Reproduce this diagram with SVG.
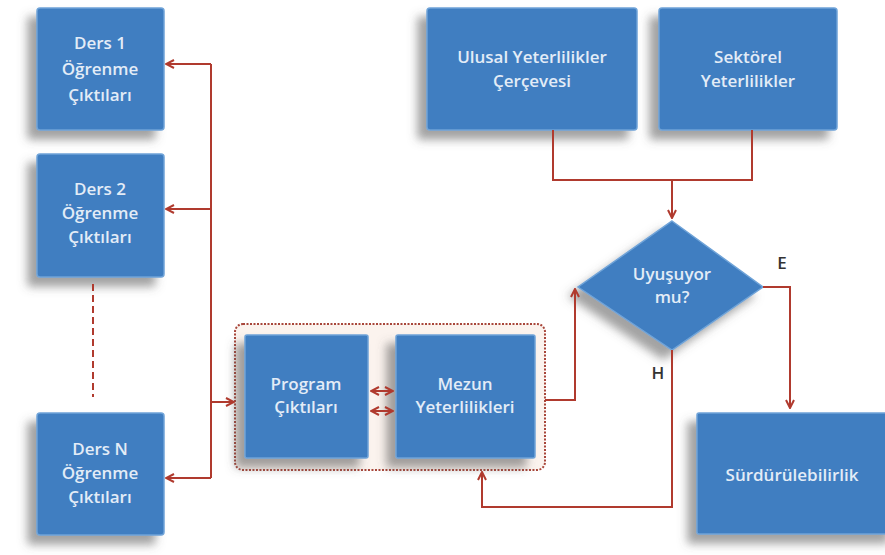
<svg xmlns="http://www.w3.org/2000/svg" width="885" height="555" viewBox="0 0 885 555">
<defs>
<filter id="sh" x="-30%" y="-30%" width="160%" height="170%">
<feDropShadow dx="-9" dy="9" stdDeviation="5" flood-color="#555" flood-opacity="0.55"/>
</filter>
<marker id="ah" viewBox="0 0 10 10" refX="9" refY="5" markerWidth="10" markerHeight="10" markerUnits="userSpaceOnUse" orient="auto-start-reverse">
<path d="M1,1 L9,5 L1,9" fill="none" stroke="#b03a2e" stroke-width="2"/>
</marker>
<style>
.box{fill:#3f7ec1;stroke:#6fa3d8;stroke-width:1.5;filter:url(#sh)}
.t{font-family:"Open Sans","Liberation Sans",sans-serif;font-size:17px;font-weight:600;fill:#e3ecf7;text-anchor:middle}
.lbl{font-family:"Open Sans","Liberation Sans",sans-serif;font-size:17px;font-weight:600;fill:#333;text-anchor:middle}
.c{fill:none;stroke:#b03a2e;stroke-width:2}
.ca{fill:none;stroke:#b03a2e;stroke-width:2;marker-end:url(#ah)}
</style>
</defs>
<rect width="885" height="555" fill="#fff"/>

<g id="group">
<rect x="235" y="324" width="310" height="146" rx="8" fill="#fbf3ee" stroke="#a8463a" stroke-width="2" stroke-dasharray="2 1.5"/>
</g>

<g id="ders1"><rect class="box" x="37" y="8" width="127" height="122" rx="3"/>
<text class="t" x="100" y="49">Ders 1</text><text class="t" x="100" y="75">Öğrenme</text><text class="t" x="100" y="101">Çıktıları</text></g>
<g id="ders2"><rect class="box" x="37" y="154" width="127" height="123" rx="3"/>
<text class="t" x="100" y="195">Ders 2</text><text class="t" x="100" y="219">Öğrenme</text><text class="t" x="100" y="243">Çıktıları</text></g>
<g id="dersN"><rect class="box" x="37" y="413" width="127" height="122" rx="3"/>
<text class="t" x="100" y="455">Ders N</text><text class="t" x="100" y="479">Öğrenme</text><text class="t" x="100" y="503">Çıktıları</text></g>

<g id="program"><rect class="box" x="245" y="335" width="123" height="123" rx="2"/>
<text class="t" x="306" y="390">Program</text><text class="t" x="306" y="413">Çıktıları</text></g>
<g id="mezun"><rect class="box" x="396" y="335" width="139" height="123" rx="2"/>
<text class="t" x="465" y="390">Mezun</text><text class="t" x="465" y="413">Yeterlilikleri</text></g>

<g id="ulusal"><rect class="box" x="427" y="8" width="210" height="122" rx="3"/>
<text class="t" x="532" y="63">Ulusal Yeterlilikler</text><text class="t" x="532" y="87">Çerçevesi</text></g>
<g id="sektorel"><rect class="box" x="659" y="8" width="178" height="122" rx="3"/>
<text class="t" x="748" y="63">Sektörel</text><text class="t" x="748" y="87">Yeterlilikler</text></g>

<g id="karar"><polygon class="box" points="672,221 763,287 672,350 578,287"/>
<text class="t" x="672" y="280">Uyuşuyor</text><text class="t" x="672" y="303">mu?</text></g>

<g id="surdur"><rect class="box" x="697" y="413" width="200" height="121" rx="2"/>
<text class="t" x="792" y="481">Sürdürülebilirlik</text></g>

<g id="connectors">
<path class="c" d="M211,64 V478"/>
<path class="ca" d="M211,64 H166"/>
<path class="ca" d="M211,209 H166"/>
<path class="ca" d="M211,478 H166"/>
<path class="ca" d="M211,402 H234"/>
<path d="M93,284 V397" fill="none" stroke="#b03a2e" stroke-width="2" stroke-dasharray="7 4"/>
<path class="ca" d="M371,391 H393" marker-start="url(#ah)"/>
<path class="ca" d="M371,411 H393" marker-start="url(#ah)"/>
<path class="ca" d="M545,400 H575 V289"/>
<path class="c" d="M553,130 V180 H752 V130"/>
<path class="ca" d="M672,180 V218"/>
<path class="ca" d="M763,287 H790 V408"/>
<path class="ca" d="M672,350 V507 H482 V472"/>
<text class="lbl" x="782" y="269">E</text>
<text class="lbl" x="658" y="379">H</text>
</g>
</svg>
